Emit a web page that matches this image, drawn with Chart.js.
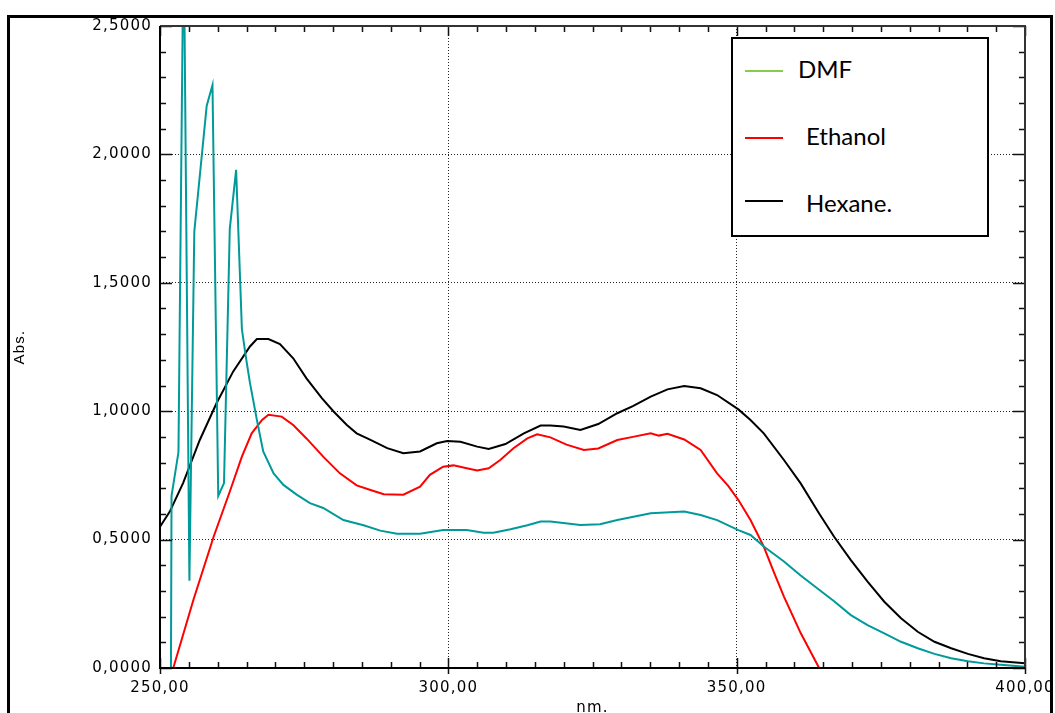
<!DOCTYPE html>
<html>
<head>
<meta charset="utf-8">
<script src="https://cdn.jsdelivr.net/npm/chart.js@4"></script>
<style>
  html, body { margin: 0; padding: 0; background: #fff; overflow: hidden; }
  #wrap { position: relative; width: 1055px; height: 713px; }
  #chart { position: absolute; left: 0; top: 0; }
  #frame {
    position: absolute; left: 7px; top: 15px; width: 1046px; height: 740px;
    border: 3px solid #000; box-sizing: border-box; pointer-events: none;
  }
  #legend {
    position: absolute; left: 731px; top: 37px; width: 258px; height: 200px;
    border: 2px solid #000; box-sizing: border-box; background: #fff;
    font-family: Lato, 'Open Sans', sans-serif; font-size: 24px; color: #000;
  }
  #legend .swatch { position: absolute; left: 12px; width: 38px; height: 2px; }
  #legend .name { position: absolute; height: 30px; line-height: 30px; white-space: nowrap; }
</style>
</head>
<body>
<div id="wrap">
  <canvas id="chart" width="1055" height="713"></canvas>
  <div id="legend">
    <div class="swatch" style="top:31px; background:#86cc4e;"></div>
    <div class="name" style="left:65px; top:15px;">DMF</div>
    <div class="swatch" style="top:98px; background:#ff0000;"></div>
    <div class="name" style="left:73px; top:82px;">Ethanol</div>
    <div class="swatch" style="top:161px; background:#000;"></div>
    <div class="name" style="left:73px; top:149px;">Hexane.</div>
  </div>
  <div id="frame"></div>
</div>
<script>
  // values (wavelength in nm, absorbance)
  const dmfNm = [250, 251.9, 252.0, 253.2, 254.1, 255.1, 255.95, 258.1, 259.1, 260.1, 261.1, 262.1, 263.2, 264.2, 264.9, 265.6, 266.8, 267.9, 269.7, 271.4, 273.7, 276.0, 278.3, 281.8, 285.3, 288.2, 291.1, 295.1, 299.1, 303.2, 306.1, 307.8, 310.8, 313.7, 316.0, 317.7, 322.9, 326.3, 329.3, 335.1, 340.9, 343.75, 346.6, 350.3, 352.4, 354.7, 358.2, 361.1, 364.3, 366.9, 369.8, 372.7, 375.6, 378.5, 381.4, 384.3, 387.2, 390.1, 392.9, 395.8, 400];
  const dmfAbs = [0, 0, 0.67, 0.84, 2.9, 0.34, 1.70, 2.19, 2.27, 0.67, 0.72, 1.71, 1.94, 1.32, 1.21, 1.11, 0.966, 0.843, 0.758, 0.713, 0.675, 0.642, 0.623, 0.576, 0.556, 0.535, 0.523, 0.523, 0.537, 0.537, 0.527, 0.527, 0.54, 0.556, 0.57, 0.57, 0.557, 0.56, 0.576, 0.603, 0.609, 0.596, 0.576, 0.537, 0.518, 0.473, 0.415, 0.36, 0.305, 0.26, 0.206, 0.167, 0.135, 0.102, 0.077, 0.055, 0.038, 0.026, 0.018, 0.013, 0.005];

  const ethanolNm = [252.3, 255.8, 259.3, 262.2, 264.2, 265.9, 267.7, 268.8, 271.1, 273.1, 275.4, 278.3, 281.2, 284.1, 286.5, 288.8, 292.2, 295.1, 296.8, 299.1, 300.9, 303.2, 305.0, 307.0, 309.0, 311.3, 313.7, 315.4, 317.7, 320.5, 323.5, 326.0, 329.3, 332.0, 335.1, 336.5, 338.0, 340.9, 343.75, 346.6, 348.5, 350.3, 352.4, 354.7, 356.5, 358.2, 361.1, 364.3];
  const ethanolAbs = [0, 0.266, 0.511, 0.693, 0.823, 0.914, 0.966, 0.986, 0.979, 0.946, 0.894, 0.823, 0.758, 0.711, 0.693, 0.677, 0.675, 0.706, 0.752, 0.784, 0.789, 0.778, 0.769, 0.778, 0.81, 0.856, 0.894, 0.91, 0.898, 0.87, 0.849, 0.855, 0.888, 0.9, 0.914, 0.905, 0.912, 0.89, 0.849, 0.758, 0.71, 0.654, 0.576, 0.473, 0.37, 0.278, 0.136, 0];

  const hexaneNm = [250, 251.7, 254.0, 256.9, 259.8, 262.7, 265.6, 266.8, 268.8, 270.8, 273.1, 275.4, 278.1, 280.1, 282.4, 284.1, 286.5, 289.4, 292.2, 295.1, 298.0, 299.8, 302.1, 305.0, 307.0, 309.9, 313.1, 316.0, 317.7, 320.0, 322.9, 326.0, 329.3, 332.0, 335.1, 338.0, 340.9, 343.75, 346.6, 350.3, 352.4, 354.7, 358.2, 361.1, 364.3, 366.9, 369.8, 372.7, 375.6, 378.5, 381.4, 384.3, 387.2, 390.1, 392.9, 395.8, 400];
  const hexaneAbs = [0.55, 0.609, 0.72, 0.888, 1.031, 1.155, 1.252, 1.281, 1.281, 1.261, 1.206, 1.128, 1.05, 0.999, 0.946, 0.914, 0.888, 0.856, 0.836, 0.843, 0.875, 0.884, 0.881, 0.862, 0.853, 0.872, 0.914, 0.944, 0.944, 0.94, 0.927, 0.95, 0.992, 1.02, 1.057, 1.085, 1.098, 1.089, 1.063, 1.007, 0.966, 0.914, 0.81, 0.719, 0.602, 0.511, 0.42, 0.336, 0.258, 0.194, 0.141, 0.102, 0.077, 0.055, 0.038, 0.026, 0.018];

  const xMin = 250, xMax = 400, xMajor = 50, xMinor = 5;
  const yMin = 0, yMax = 2.5, yMajor = 0.5, yMinor = 0.1;

  const toPoints = (xs, ys) => xs.map((x, i) => ({ x: x, y: ys[i] }));

  const tickFont = { family: 'DejaVu Sans', size: 15 };

  // inward tick marks on all four sides plus the plot box
  const axisFrame = {
    id: 'axisFrame',
    beforeDraw(chart) {
      chart.ctx.letterSpacing = '1.2px';
    },
    afterDraw(chart) {
      const { ctx, chartArea: a, scales } = chart;
      const x = scales.x, y = scales.y;
      ctx.save();
      ctx.setLineDash([]);
      ctx.lineWidth = 1.5;
      ctx.strokeStyle = '#111';
      ctx.beginPath();
      const nx = Math.round((xMax - xMin) / xMinor);
      for (let i = 0; i <= nx; i++) {
        const v = xMin + i * xMinor;
        const px = Math.round(x.getPixelForValue(v)) + 0.5;
        const major = i % Math.round(xMajor / xMinor) === 0;
        ctx.moveTo(px, a.bottom + (major ? 6 : 0));
        ctx.lineTo(px, a.bottom - (major ? 10 : 6));
        ctx.moveTo(px, a.top);
        ctx.lineTo(px, a.top + (major ? 10 : 6));
      }
      const ny = Math.round((yMax - yMin) / yMinor);
      for (let i = 0; i <= ny; i++) {
        const v = yMin + i * yMinor;
        const py = Math.round(y.getPixelForValue(v)) + 0.5;
        const major = i % Math.round(yMajor / yMinor) === 0;
        ctx.moveTo(a.left, py);
        ctx.lineTo(a.left + (major ? 12 : 6), py);
        ctx.moveTo(a.right, py);
        ctx.lineTo(a.right - (major ? 12 : 6), py);
      }
      ctx.stroke();

      ctx.lineWidth = 2;
      ctx.strokeStyle = '#333';
      ctx.beginPath();
      ctx.moveTo(a.left, a.top);
      ctx.lineTo(a.right, a.top);
      ctx.lineTo(a.right, a.bottom);
      ctx.stroke();
      ctx.strokeStyle = '#000';
      ctx.beginPath();
      ctx.moveTo(a.left, a.top);
      ctx.lineTo(a.left, a.bottom);
      ctx.lineTo(a.right, a.bottom);
      ctx.stroke();
      ctx.restore();
    }
  };

  const chart = new Chart(document.getElementById('chart').getContext('2d'), {
    type: 'line',
    data: {
      datasets: [
        {
          label: 'DMF',
          data: toPoints(dmfNm, dmfAbs),
          borderColor: '#009a9a',
          borderWidth: 2,
          pointRadius: 0,
          tension: 0,
        },
        {
          label: 'Ethanol',
          data: toPoints(ethanolNm, ethanolAbs),
          borderColor: '#ff0000',
          borderWidth: 2,
          pointRadius: 0,
          tension: 0,
        },
        {
          label: 'Hexane.',
          data: toPoints(hexaneNm, hexaneAbs),
          borderColor: '#000000',
          borderWidth: 2,
          pointRadius: 0,
          tension: 0,
        },
      ],
    },
    options: {
      responsive: false,
      animation: false,
      layout: { padding: { left: 0, right: 30, top: 26, bottom: 0 } },
      plugins: {
        legend: { display: false },
        tooltip: { enabled: false },
      },
      scales: {
        x: {
          type: 'linear',
          min: xMin,
          max: xMax,
          afterFit: (s) => {
            s.height = 45;
            s.paddingLeft = 0;
            s.paddingRight = 0;
          },
          ticks: {
            stepSize: xMajor,
            autoSkip: false,
            maxRotation: 0,
            padding: 11,
            color: '#000',
            font: tickFont,
            callback: (v) => v.toFixed(2).replace('.', ','),
          },
          grid: { color: '#222', lineWidth: 1, drawTicks: false },
          border: { display: false, dash: [1, 2] },
          title: {
            display: true,
            text: 'nm.',
            color: '#000',
            padding: 0,
            font: { family: 'DejaVu Sans', size: 15, lineHeight: 0.7 },
          },
        },
        y: {
          min: yMin,
          max: yMax,
          afterFit: (s) => {
            s.width = 160;
            s.paddingTop = 0;
            s.paddingBottom = 0;
          },
          ticks: {
            stepSize: yMajor,
            padding: 8,
            color: '#000',
            font: tickFont,
            callback: (v) => v.toFixed(4).replace('.', ','),
          },
          grid: { color: '#222', lineWidth: 1, drawTicks: false },
          border: { display: false, dash: [1, 2] },
          title: {
            display: true,
            text: 'Abs.',
            color: '#000',
            padding: { top: 11, bottom: 0 },
            font: { family: 'Liberation Sans', size: 15, lineHeight: 1.2 },
          },
        },
      },
    },
    plugins: [axisFrame],
  });
</script>
</body>
</html>
